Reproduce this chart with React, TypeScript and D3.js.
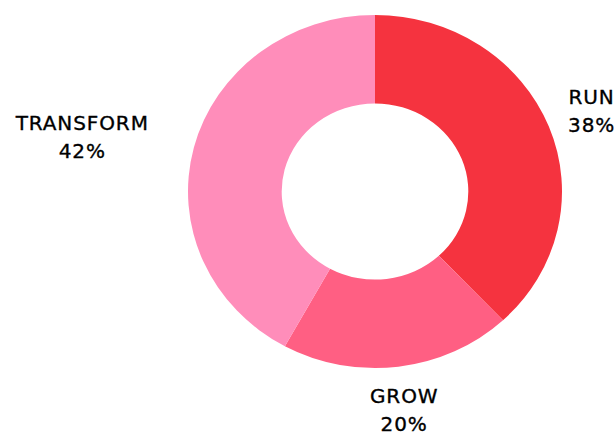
import React, { useLayoutEffect, useRef, useState } from "react";
import * as d3 from "d3";

const categories = ["RUN", "GROW", "TRANSFORM"];
const values = [38, 20, 42];
const colors = ["#F5333F", "#FF5F83", "#FF8DBA"];

const W = 616;
const H = 434;
const cx = 375;
const cy = 191.5;
const outerR = 187;
const innerR = 93.3;
const ySquash = 0.944;
const labelR = 233;

export default function App() {
  const refs = useRef<(SVGTextElement | null)[]>([]);
  const [widths, setWidths] = useState<number[]>(categories.map(() => 0));

  useLayoutEffect(() => {
    const w = refs.current.map((el) => (el ? el.getBBox().width : 0));
    setWidths(w);
  }, []);

  const pie = d3
    .pie<number>()
    .sort(null)
    .value((d) => d)
    .startAngle(0)
    .endAngle(2 * Math.PI);
  const arcs = pie(values);
  const arc = d3.arc<d3.PieArcDatum<number>>().innerRadius(innerR).outerRadius(outerR);

  return (
    <svg
      width={W}
      height={H}
      style={{ position: "absolute", left: 0, top: 0, display: "block" }}
    >
      <rect width={W} height={H} fill="#ffffff" />
      <g transform={`translate(${cx},${cy}) scale(1,${ySquash})`}>
        {arcs.map((a, i) => (
          <path key={categories[i]} d={arc(a) || ""} fill={colors[i]} />
        ))}
      </g>
      {arcs.map((a, i) => {
        const mid = (a.startAngle + a.endAngle) / 2;
        const sx = Math.sin(mid);
        const sy = -Math.cos(mid);
        const px = cx + sx * labelR;
        const y = cy + sy * labelR * ySquash;
        const w = widths[i];
        const x = sx < -0.95 ? px - w / 2 : sx > 0.95 ? px + w / 2 : px;
        return (
          <text
            key={categories[i]}
            ref={(el) => {
              refs.current[i] = el;
            }}
            x={x}
            y={y}
            textAnchor="middle"
            fontFamily="'DejaVu Sans', sans-serif"
            fontSize={20}
            letterSpacing={0.9}
            fill="#000000"
            stroke="#000000"
            strokeWidth={0.35}
          >
            <tspan x={x} dy={-7}>{categories[i]}</tspan>
            <tspan x={x} dy={28.5}>{`${values[i]}%`}</tspan>
          </text>
        );
      })}
    </svg>
  );
}
